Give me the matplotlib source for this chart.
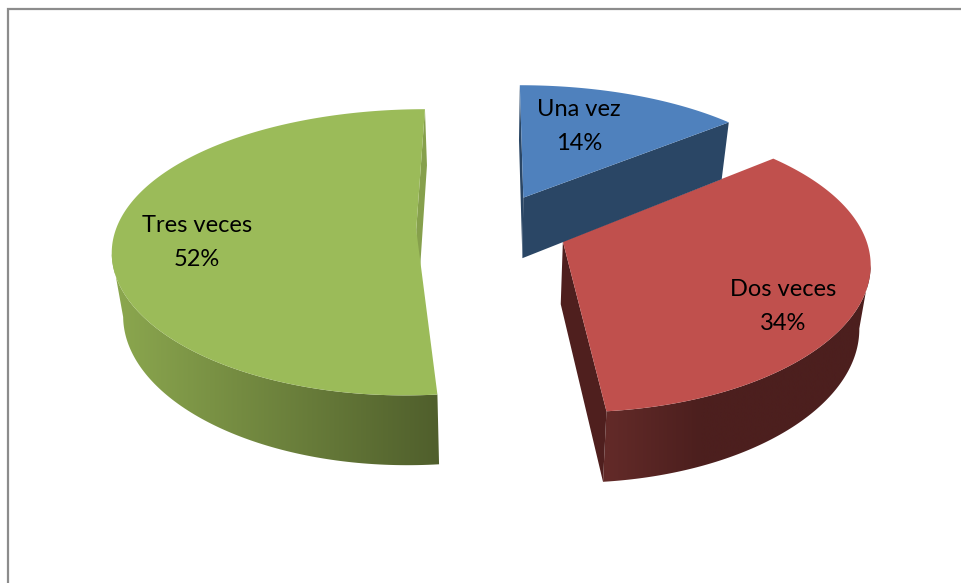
import numpy as np
import matplotlib
matplotlib.use("Agg")
import matplotlib.pyplot as plt
from matplotlib.colors import to_rgb
from matplotlib.patches import Polygon

categories = ["Una vez", "Dos veces", "Tres veces"]
values = [14.0, 34.5, 51.5]
pct_labels = ["14%", "34%", "52%"]
top_colors = ["#4F81BD", "#C0504D", "#9BBB59"]
cut_colors = ["#2A4665", "#4F1F1E", "#86A04C"]
side_left = ["#2A4665", "#622A28", "#8CA84F"]
side_right = ["#2A4665", "#4C1F1E", "#505F2C"]
label_x = [579, 783, 197]
label_y = [110, 290, 226]

# projection of the pie plane to pixels
cx, cy = 492, 228
A, B = 303, 139
kx, ky = 0.13, 0.158
radius_x = 0.99
depth = 62
explode = 0.25
# where the wall shading starts and stops, in pixels
grad_x0 = [520, 610, 112]
grad_x1 = [730, 700, 436]
# cut faces we can see: 0 = at start of the arc, -1 = at its end
cut_ends = [[0, -1], [-1], [-1]]


def project(u, v, low=False):
    x = A * u / (1 + kx * v)
    w = 1 + ky * v
    y = cy - B * v / w
    if low:
        x = x * 0.97
        y = y + depth / w ** 0.68
    return cx + x, y


fig = plt.figure(figsize=(9.61, 5.83), dpi=100)
ax = fig.add_axes([0, 0, 1, 1])

# chart border, cut off on the right and at the bottom
ax.plot([8, 8, 961], [583, 9, 9], color="#8C8C8C", lw=1.6, solid_joinstyle="miter")

shares = np.array(values) / sum(values) * 2 * np.pi
ends = np.cumsum(shares)
starts = ends - shares

# back to front: green, red, blue
for i in [2, 1, 0]:
    mid = (starts[i] + ends[i]) / 2
    ou, ov = explode * np.sin(mid), explode * np.cos(mid)
    t = np.linspace(starts[i], ends[i], 200)
    au, av = ou + radius_x * np.sin(t), ov + np.cos(t)
    tx, ty = project(ou, ov)
    lx, ly = project(ou, ov, True)
    xt, yt = project(au, av)
    xl, yl = project(au, av, True)
    base = 2 + (2 - i) * 3

    # outer wall, only the part facing us (blue has none)
    if i == 2:
        vis = np.arange(np.argmin(xt) + 1)
    elif i == 1:
        vis = np.arange(np.argmax(xt), len(t))
    else:
        vis = []
    if len(vis) > 0:
        c0, c1 = np.array(to_rgb(side_left[i])), np.array(to_rgb(side_right[i]))
        x_lo, x_hi = min(xt.min(), xl.min()) - 2, max(xt.max(), xl.max()) + 2
        xs = np.linspace(x_lo, x_hi, 400)
        fx = np.clip((xs - grad_x0[i]) / (grad_x1[i] - grad_x0[i]), 0, 1)[None, :, None]
        grad = c0 + (c1 - c0) * fx
        wall = Polygon(np.c_[np.r_[xt[vis], xl[vis][::-1]], np.r_[yt[vis], yl[vis][::-1]]],
                       closed=True, transform=ax.transData)
        im = ax.imshow(grad, extent=[x_lo, x_hi, yl.max() + 2, yt.min() - 2], aspect="auto", zorder=base)
        im.set_clip_path(wall)

    # cut faces
    for e in cut_ends[i]:
        ax.fill([tx, xt[e], xl[e], lx], [ty, yt[e], yl[e], ly], color=cut_colors[i], lw=0, zorder=base + 1)

    # top face
    ax.fill(np.r_[tx, xt], np.r_[ty, yt], color=top_colors[i], lw=0, zorder=base + 2)

for name, pct, x, y in zip(categories, pct_labels, label_x, label_y):
    ax.text(x, y, name, family="Lato", fontsize=17, ha="center", va="center", color="black", zorder=20)
    ax.text(x, y + 33, pct, family="Lato", fontsize=17, ha="center", va="center", color="black", zorder=20)

ax.set_xlim(0, 961)
ax.set_ylim(583, 0)
ax.axis("off")

fig.savefig("out.png", dpi=100)
